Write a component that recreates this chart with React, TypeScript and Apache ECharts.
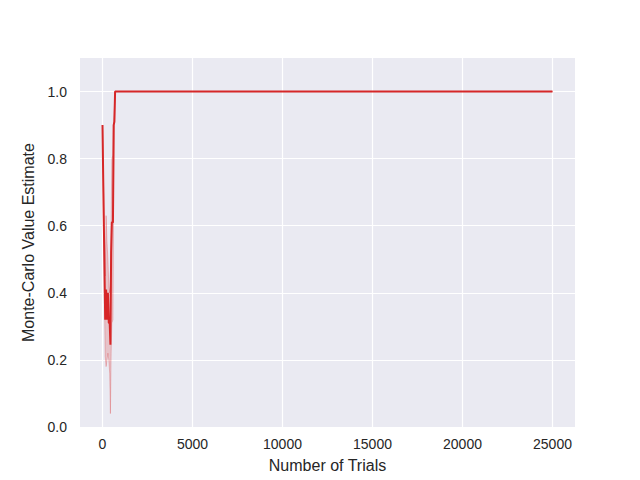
import React, { useEffect, useRef } from "react";
import * as echarts from "echarts";

// Trials (x) for the early, varying part of the curve
const trials = [0, 50, 150, 200, 250, 300, 350, 400, 440, 480, 520, 580, 620, 660, 700, 25000];
// Mean Monte-Carlo value estimate
const meanValues = [0.9, 0.7, 0.32, 0.41, 0.32, 0.4, 0.31, 0.31, 0.245, 0.52, 0.61, 0.61, 0.9, 0.91, 1.0, 1.0];
// Confidence band bounds
const lowerBand = [0.9, 0.62, 0.21, 0.18, 0.2, 0.22, 0.2, 0.16, 0.04, 0.22, 0.31, 0.32, 0.72, 0.9, 1.0, 1.0];
const upperBand = [0.9, 0.75, 0.45, 0.63, 0.55, 0.5, 0.42, 0.4, 0.45, 0.62, 0.8, 0.81, 0.91, 0.95, 1.0, 1.0];

const xTicks = [0, 5000, 10000, 15000, 20000, 25000];
const yTicks = [0, 0.2, 0.4, 0.6, 0.8, 1.0];

export default function App() {
  const ref = useRef<HTMLDivElement>(null);
  useEffect(() => {
    if (!ref.current) return;
    const chart = echarts.init(ref.current, null, { renderer: "svg" });
    const font = "'Liberation Sans', Arial, sans-serif";
    const lineData = trials.map((t, i) => [t, meanValues[i]]);
    chart.setOption({
      animation: false,
      backgroundColor: "#ffffff",
      textStyle: { fontFamily: font },
      grid: {
        left: 80,
        right: 65,
        top: 58,
        bottom: 53,
        show: true,
        backgroundColor: "#EAEAF2",
        borderWidth: 0,
        containLabel: false,
      },
      xAxis: {
        type: "value",
        min: -1250,
        max: 26250,
        name: "Number of Trials",
        nameLocation: "middle",
        nameGap: 30,
        nameTextStyle: { fontSize: 16, color: "#262626", fontFamily: font },
        axisLine: { show: false },
        axisTick: { show: false, customValues: xTicks },
        axisLabel: {
          fontSize: 14,
          color: "#262626",
          margin: 10,
          fontFamily: font,
          customValues: xTicks,
          formatter: (v: number) => String(v),
        },
        splitLine: { show: true, lineStyle: { color: "#ffffff", width: 1.2 } },
      },
      yAxis: {
        type: "value",
        min: 0,
        max: 1.1,
        name: "Monte-Carlo Value Estimate",
        nameLocation: "middle",
        nameGap: 33,
        nameTextStyle: { fontSize: 16, color: "#262626", fontFamily: font },
        axisLine: { show: false },
        axisTick: { show: false, customValues: yTicks },
        axisLabel: {
          fontSize: 14,
          color: "#262626",
          margin: 13,
          fontFamily: font,
          customValues: yTicks,
          formatter: (v: number) => v.toFixed(1),
        },
        splitLine: { show: true, lineStyle: { color: "#ffffff", width: 1.2 } },
      },
      series: [
        {
          type: "custom",
          silent: true,
          data: [[0]],
          z: 1,
          renderItem: (params: any, api: any) => {
            const pts: number[][] = [];
            for (let i = 0; i < trials.length; i++) pts.push(api.coord([trials[i], upperBand[i]]));
            for (let i = trials.length - 1; i >= 0; i--) pts.push(api.coord([trials[i], lowerBand[i]]));
            return {
              type: "polygon",
              shape: { points: pts },
              style: {
                fill: "rgba(214,39,40,0.2)",
                stroke: "rgba(214,39,40,0.25)",
                lineWidth: 1,
              },
            };
          },
        },
        {
          type: "line",
          data: lineData,
          showSymbol: false,
          symbol: "none",
          z: 3,
          lineStyle: { color: "#d62728", width: 2 },
        },
      ],
    });
    return () => chart.dispose();
  }, []);
  return <div ref={ref} style={{ width: 640, height: 480, margin: -8 }} />;
}
